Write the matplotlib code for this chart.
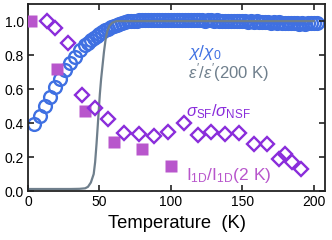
import matplotlib
matplotlib.use("Agg")
import matplotlib.pyplot as plt

# chi / chi_0 (open circles)
chi_T = [4.4, 8.4, 11.9, 15.4, 18.9, 22.4, 25.9, 29.4, 32.9, 36.4, 39.9,
         42, 44, 46, 48, 50, 52, 54, 56, 58, 60, 62, 64, 66, 68, 70, 72, 74,
         76, 78, 80, 82, 84, 86, 88, 90, 92, 94, 96, 98, 100, 102, 104, 106,
         108, 110, 112, 114, 116, 118, 120, 122, 124, 126, 128, 130, 132, 134,
         136, 138, 140, 142, 144, 146, 148, 150, 152, 154, 156, 158, 160, 162,
         164, 166, 168, 170, 172, 174, 176, 178, 180, 182, 184, 186, 188, 190,
         192, 194, 196, 198, 200, 202]
chi_val = [0.395, 0.44, 0.50, 0.556, 0.61, 0.66, 0.71, 0.753, 0.79, 0.83, 0.858,
           0.872, 0.886, 0.899, 0.911, 0.922, 0.934, 0.945, 0.955, 0.963, 0.971,
           0.978, 0.984, 0.990, 0.995, 0.998, 1.000, 1.002, 1.003, 1.004, 1.005,
           1.004, 1.006, 1.005, 1.006, 1.004, 1.006, 1.007, 1.005, 1.006, 1.004,
           1.006, 1.005, 1.007, 1.006, 1.005, 1.006, 1.004, 1.006, 1.005, 1.004,
           1.006, 1.003, 1.005, 1.004, 1.002, 1.004, 1.003, 1.001, 1.003, 1.002,
           1.000, 1.002, 0.999, 1.001, 0.998, 1.000, 0.997, 0.999, 0.996, 0.998,
           0.994, 0.996, 0.993, 0.995, 0.991, 0.993, 0.990, 0.992, 0.988, 0.990,
           0.987, 0.989, 0.986, 0.988, 0.985, 0.987, 0.985, 0.986, 0.987, 0.988,
           0.990]

# eps' / eps'(200 K) (gray line)
eps_T = [0, 10, 20, 30, 36, 40, 42, 44, 46, 47, 48, 48.8, 49.5, 50.3, 51.2,
         52.2, 53.2, 54.3, 55.5, 57, 59, 62, 70, 100, 150, 200]
eps_val = [0.012, 0.012, 0.012, 0.012, 0.013, 0.016, 0.025, 0.05, 0.10, 0.17,
           0.28, 0.38, 0.47, 0.57, 0.66, 0.74, 0.82, 0.89, 0.94, 0.972, 0.99,
           1.0, 1.0, 1.0, 1.0, 1.0]

# sigma_SF / sigma_NSF (open diamonds)
sig_T = [13, 19, 28, 38, 47, 56, 67, 78, 88, 98, 109, 119, 128, 138, 148,
         158, 167, 176, 180, 185, 191]
sig_val = [1.0, 0.96, 0.87, 0.565, 0.49, 0.425, 0.34, 0.335, 0.325, 0.345,
           0.40, 0.33, 0.345, 0.335, 0.34, 0.275, 0.275, 0.19, 0.215, 0.17, 0.13]

# I_1D / I_1D(2 K) (filled squares)
i1d_T = [2, 20, 40, 60, 80, 100]
i1d_val = [1.0, 0.72, 0.47, 0.29, 0.245, 0.15]

x_ticks = [0, 50, 100, 150, 200]
y_ticks = [0.0, 0.2, 0.4, 0.6, 0.8, 1.0]

blue = "#3f70e2"
gray = "#6f7f8c"
purple = "#8a2ddb"
magenta = "#b856cc"

plt.rcParams["font.family"] = ["Liberation Sans", "DejaVu Sans"]
plt.rcParams["mathtext.fontset"] = "custom"
plt.rcParams["mathtext.rm"] = "Liberation Sans"
plt.rcParams["mathtext.it"] = "Liberation Sans:italic"

fig = plt.figure(figsize=(3.32, 2.40), dpi=100)
ax = fig.add_axes([0.0843, 0.204, 0.895, 0.779])

ax.plot(chi_T, chi_val, "o", ms=9.2, mfc="none", mec=blue, mew=1.7, zorder=1)
ax.plot(eps_T, eps_val, "-", color=gray, lw=1.6, zorder=2)
ax.plot(i1d_T, i1d_val, "s", ms=8.2, color=magenta, mec="none", zorder=3)
ax.plot(sig_T, sig_val, "D", ms=7.6, mfc="none", mec=purple, mew=1.7, zorder=4)

ax.text(112, 0.815, r"$\chi/\chi_0$", color=blue, fontsize=12.5, va="center")
ax.text(112, 0.695, r"$\epsilon^\prime/\epsilon^\prime$(200 K)", color=gray,
        fontsize=12, va="center")
ax.text(110.5, 0.47, r"$\sigma_{\rm SF}/\sigma_{\rm NSF}$", color=purple,
        fontsize=12, va="center")
ax.text(110.5, 0.09, r"I$_{\rm 1D}$/I$_{\rm 1D}$(2 K)", color=magenta,
        fontsize=12.5, va="center")

ax.set_xlim(0, 208)
ax.set_ylim(0, 1.1)
ax.set_xticks(x_ticks)
ax.set_yticks(y_ticks)
ax.set_yticklabels([f"{v:.1f}" for v in y_ticks])
ax.set_xlabel("Temperature  (K)", fontsize=13.2, labelpad=4)
ax.tick_params(direction="in", length=4, width=1.2, top=True, right=True,
               labelsize=10, pad=3, color="#222222")
for s in ax.spines.values():
    s.set_linewidth(1.3)
    s.set_color("#222222")

fig.savefig("out.png", dpi=100)
